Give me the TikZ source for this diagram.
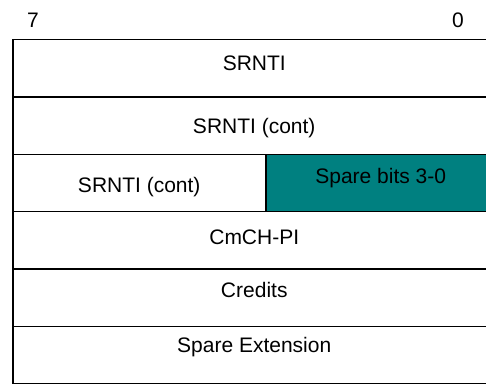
\documentclass[tikz,border=0pt]{standalone}
\usepackage{fontspec}
\setmainfont{Liberation Sans}
\definecolor{spare}{RGB}{0,128,128}

\begin{document}
\begin{tikzpicture}[x=1pt,y=-1pt,font=\fontsize{21}{25}\selectfont,
  row/.style={draw,line width=1.5pt,inner sep=0pt,anchor=north west,minimum height=57.3pt}]
\useasboundingbox (0,0) rectangle (486,385);

\node (b7) at (33,20) {7};
\node (b0) at (458,20) {0};

\node [row,minimum width=483pt] (r1) at (12,39) {};
\node [row,minimum width=483pt] (r2) at (12,96.3) {};
\node [row,minimum width=253pt] (r3) at (12,153.6) {};
\node [row,minimum width=230pt,fill=spare] (r3s) at (265,153.6) {};
\node [row,minimum width=483pt] (r4) at (12,210.9) {};
\node [row,minimum width=483pt] (r5) at (12,268.2) {};
\node [row,minimum width=483pt] (r6) at (12,325.5) {};

\node (t1) at ([yshift=5pt]r1.center) {SRNTI};
\node (t2) at ([yshift=-2pt]r2.center) {SRNTI (cont)};
\node (t3) at ([yshift=-4pt]r3.center) {SRNTI (cont)};
\node (t3s) at ([yshift=5pt]r3s.center) {Spare bits 3-0};
\node (t4) at ([yshift=3pt]r4.center) {CmCH-PI};
\node (t5) at ([yshift=8pt]r5.center) {Credits};
\node (t6) at ([yshift=8pt]r6.center) {Spare Extension};

\end{tikzpicture}
\end{document}
